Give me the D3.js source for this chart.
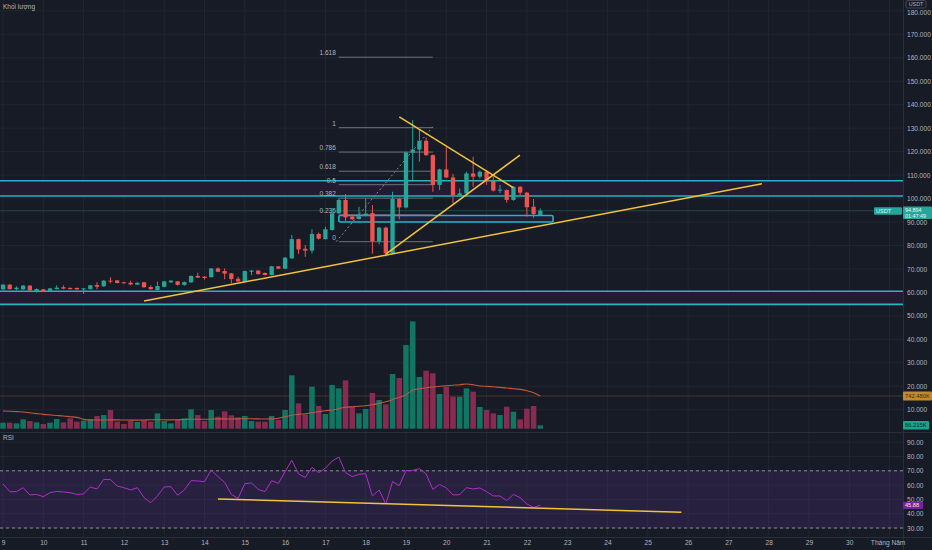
<!DOCTYPE html>
<html><head><meta charset="utf-8">
<script src="https://cdn.jsdelivr.net/npm/d3@7"></script>
<style>html,body{margin:0;padding:0;background:#171b26;overflow:hidden}svg{display:block}</style>
</head><body>
<svg id="c" width="932" height="550"></svg>
<script>
// ---------- DATA ----------
const dayLabels = ["9","10","11","12","13","14","15","16","17","18","19","20","21","22","23","24","25","26","27","28","29","30","Tháng Năm"];
const open  = [61.3,63.3,61.4,61.3,62.9,60.6,61.3,60.7,61.4,62.2, 61.9,61.9,61.4,61.4,63.1,62.6,65.0,65.1,64.3,64.1, 63.3,64.3,62.3,61.0,62.4,64.3,64.7,63.2,64.3,67.0, 66.7,66.5,70.2,69.1,68.1,65.8,64.6,68.8,69.3,68.3, 67.4,71.1,70.1,74.5,82.7,78.6,77.8,84.9,82.7,86.6, 93.7,99.4,92.3,91.3,92.6,93.8,81.8,87.6,76.6,99.8, 96.2,119.6,120.9,124.6,118.5,105.8,112.4,109.0,101.3,102.2, 110.7,109.3,111.4,107.5,103.5,103.6,99.4,105.0,102.5,96.5, 93.0];
const close = [63.3,61.4,62.0,62.9,60.9,61.4,60.6,61.7,62.0,61.6, 61.4,61.3,61.7,63.0,62.4,65.0,64.7,64.0,63.9,63.4, 64.1,62.2,61.4,62.7,64.7,65.0,63.2,64.4,67.0,66.3, 66.1,70.2,68.8,68.0,65.7,64.7,69.1,69.3,67.8,67.4, 71.1,70.1,74.8,82.7,78.3,77.8,84.9,82.9,86.9,93.7, 99.4,92.0,91.2,92.4,93.6,81.8,87.6,76.7,99.8,96.2, 119.6,120.9,124.6,118.5,105.8,112.4,109.0,101.5,102.2,110.7, 109.3,111.4,107.5,103.4,103.8,99.4,105.0,102.5,96.3,93.4, 94.8];
const high  = [63.5,63.5,62.6,63.1,63.0,61.7,61.5,61.9,63.0,63.0, 62.1,62.0,61.9,63.2,64.3,65.2,66.4,65.3,64.5,65.0, 64.3,64.5,63.0,64.6,64.9,65.2,64.9,64.6,67.2,68.4, 66.9,70.4,70.6,70.2,68.3,66.7,69.3,69.5,69.5,68.5, 71.3,71.3,75.0,84.5,82.9,80.2,86.9,85.5,88.0,96.0, 100.0,101.9,93.0,96.5,100.0,97.2,88.0,88.0,102.9,100.2, 120.0,133.4,129.5,126.0,118.8,112.7,121.8,110.5,104.3,111.5, 117.8,112.0,112.0,109.3,105.8,103.9,105.3,105.3,102.8,99.8, 95.8];
const low   = [61.0,61.2,60.9,61.1,60.7,60.0,60.4,60.5,61.3,61.3, 61.2,61.1,59.3,61.2,61.3,62.4,63.9,63.8,63.7,63.0, 63.1,62.0,61.0,60.8,62.2,64.0,62.9,62.8,64.1,66.1, 65.5,66.3,68.6,65.6,63.9,64.5,64.4,67.3,67.6,67.2, 67.2,69.9,69.9,74.3,76.4,75.1,76.6,82.5,82.5,86.3, 93.4,90.5,90.8,91.0,92.4,76.5,80.5,75.3,76.3,91.1, 95.8,107.2,115.7,118.2,102.9,103.6,108.7,97.9,101.0,101.5, 105.0,108.5,105.8,103.0,102.3,98.2,99.1,101.5,92.3,91.8, 92.8];
// volume in thousands
const volume = [120,120,107,187,153,127,94,120,194,127, 207,140,160,194,254,274,374,140,94,153, 134,174,140,307,153,107,187,207,387,274, 153,374,240,347,267,227,254,153,140,140, 254,174,374,1067,507,285,840,454,294,874, 807,967,440,307,394,714,574,487,1094,1014, 1674,2147,1034,1160,1107,694,840,640,640,807, 740,434,374,307,274,440,340,187,400,454, 66];
const volumeMA = [354,348,341,334,318,302,287,276,265,254, 240,227,187,174,174,174,176,176,174,172, 172,174,180,180,178,176,180,184,190,190, 188,192,196,196,194,196,200,198,196,194, 196,210,240,270,287,300,320,340,360,374, 400,430,440,450,460,480,507,540,580,630, 674,774,800,820,835,848,860,870,880,894, 880,854,848,840,827,815,800,787,760,720, 654];
const rsi = [60.8,55.4,55.4,58.2,53.1,53.5,51.9,54.7,55.6,55.2, 54.7,53.5,53.8,58.7,57.3,64.0,63.8,59.4,58.2,56.6, 58.2,51.2,47.7,52.4,58.7,58.9,52.9,56.6,63.1,62.9, 62.4,70.6,65.9,61.9,53.5,50.7,61.0,61.5,57.0,55.4, 63.1,61.2,69.4,77.3,67.8,65.4,72.4,68.7,71.7,76.8, 79.6,68.7,65.9,67.5,68.0,52.4,56.6,46.8,62.4,59.6, 70.1,70.3,71.5,67.8,57.0,60.5,58.0,53.1,53.3,58.2, 57.3,58.0,55.4,52.4,52.4,49.1,53.5,51.2,46.8,44.4, 45.9];
const priceTicks = [10,20,30,40,50,60,70,80,90,100,110,120,130,140,150,160,170,180];
const rsiTicks = [30,40,50,60,70,80,90];
const rsiBands = [30,70];
// drawings (bar index, price)
const zones = [[101.1,107.6],[54.9,60.5]];
const boxZone = {i1:50.0, i2:81.9, p1:90.0, p2:92.8};
const fibLevels = [0,0.236,0.382,0.5,0.618,0.786,1,1.618];
const fibLabels = ["0","0.236","0.382","0.5","0.618","0.786","1","1.618"];
const fib = {i1:50.0, i2:64.0, low:81.6, high:130.2};
const fibDiag = [[49.6,81.6],[64.0,130.6]];
const trendLines = [
  [[21.0,56.3],[113.0,106.3]],
  [[59.0,134.85],[75.97,104.6]],
  [[57.0,76.3],[76.97,118.5]]
];
const rsiTrend = [[32,50.3],[101,41.0]];

// ---------- SCALES ----------
const svg = d3.select("#c");
const plotR = 903;
const x = d3.scaleLinear().domain([0,134]).range([3,903]);
const yP = d3.scaleLinear().domain([10,170]).range([409.7,34.3]);
const yV = d3.scaleLinear().domain([0,2000]).range([428.7,328.7]);
const yR = d3.scaleLinear().domain([30,90]).range([528,442.2]);
const dayIdx = dayLabels.map((d,k)=>k*6);
const bg = "#171b26", gridC = "#222631", up = "#26a69a", dn = "#ef5350";
const txt = "#b2b5be", font = "Liberation Sans, Arial, sans-serif";

svg.append("rect").attr("width",932).attr("height",550).attr("fill",bg);

const defs = svg.append("defs");
defs.append("clipPath").attr("id","cp").append("rect").attr("x",0).attr("y",0).attr("width",plotR).attr("height",432);
defs.append("clipPath").attr("id","cr").append("rect").attr("x",0).attr("y",433).attr("width",plotR).attr("height",104);

// grid
const grid = svg.append("g");
grid.selectAll(".gv").data(dayIdx).join("line")
  .attr("x1",d=>x(d)).attr("x2",d=>x(d)).attr("y1",0).attr("y2",537)
  .attr("stroke",gridC).attr("stroke-width",1);
grid.selectAll(".gh").data(priceTicks.filter(p=>yP(p)>0 && yP(p)<432)).join("line")
  .attr("x1",0).attr("x2",plotR).attr("y1",d=>yP(d)).attr("y2",d=>yP(d))
  .attr("stroke",gridC);
grid.selectAll(".gr").data(rsiTicks).join("line")
  .attr("x1",0).attr("x2",plotR).attr("y1",d=>yR(d)).attr("y2",d=>yR(d))
  .attr("stroke",gridC);

// ---------- PRICE PANE ----------
const pp = svg.append("g").attr("clip-path","url(#cp)");
zones.forEach(z=>{
  pp.append("rect").attr("x",0).attr("width",plotR)
    .attr("y",yP(z[1])).attr("height",yP(z[0])-yP(z[1])).attr("fill","#221b31");
  z.forEach(v=>pp.append("line").attr("x1",0).attr("x2",plotR).attr("y1",yP(v)).attr("y2",yP(v))
    .attr("stroke","#22b5c2").attr("stroke-width",1.6));
});
// volume MA last value line
pp.append("line").attr("x1",0).attr("x2",plotR).attr("y1",yV(volumeMA[80])).attr("y2",yV(volumeMA[80]))
  .attr("stroke","#4a3628").attr("stroke-width",1.2);
// current price line
pp.append("line").attr("x1",0).attr("x2",plotR).attr("y1",yP(close[80])).attr("y2",yP(close[80]))
  .attr("stroke","#1d4b49").attr("stroke-width",1);

// volume bars
const bw = (x(1)-x(0));
pp.selectAll(".vb").data(volume).join("rect")
  .attr("x",(d,i)=>x(i)-bw/2+0.6).attr("width",bw-1.2)
  .attr("y",d=>yV(d)).attr("height",d=>yV(0)-yV(d))
  .attr("fill",(d,i)=>close[i]>=open[i]?"#107563":"#872c50");
pp.append("path").datum(volumeMA)
  .attr("d",d3.line().x((d,i)=>x(i)).y(d=>yV(d)).curve(d3.curveMonotoneX))
  .attr("fill","none").attr("stroke","#c3583f").attr("stroke-width",1.1);

// box zone
pp.append("rect").attr("x",x(boxZone.i1)).attr("width",x(boxZone.i2)-x(boxZone.i1))
  .attr("y",yP(boxZone.p2)).attr("height",yP(boxZone.p1)-yP(boxZone.p2))
  .attr("rx",1.5).attr("fill","rgba(60,30,90,0.35)").attr("stroke","#22b5c2").attr("stroke-width",1.6);

// fib
const fg = pp.append("g");
fibLevels.forEach((lv,k)=>{
  const p = fib.low + lv*(fib.high-fib.low);
  fg.append("line").attr("x1",x(fib.i1)).attr("x2",x(fib.i2)).attr("y1",yP(p)).attr("y2",yP(p))
    .attr("stroke","#6f727c").attr("stroke-width",1);
  fg.append("text").attr("x",x(fib.i1)-3).attr("y",yP(p)-2).attr("text-anchor","end")
    .attr("font-family",font).attr("font-size",6.5).attr("fill",txt).text(fibLabels[k]);
});
fg.append("line").attr("x1",x(fibDiag[0][0])).attr("y1",yP(fibDiag[0][1]))
  .attr("x2",x(fibDiag[1][0])).attr("y2",yP(fibDiag[1][1]))
  .attr("stroke","#8a8d96").attr("stroke-width",1).attr("stroke-dasharray","2,2.5");

// candles
const cw = bw*0.64;
const cg = pp.append("g");
open.forEach((o,i)=>{
  const c = close[i], col = c>=o?up:dn;
  cg.append("line").attr("x1",x(i)).attr("x2",x(i)).attr("y1",yP(high[i])).attr("y2",yP(low[i]))
    .attr("stroke",col).attr("stroke-width",1);
  const top = yP(Math.max(o,c)), h = Math.max(1, Math.abs(yP(o)-yP(c)));
  cg.append("rect").attr("x",x(i)-cw/2).attr("width",cw).attr("y",top).attr("height",h).attr("fill",col);
});

// trend lines
trendLines.forEach(t=>{
  pp.append("line").attr("x1",x(t[0][0])).attr("y1",yP(t[0][1])).attr("x2",x(t[1][0])).attr("y2",yP(t[1][1]))
    .attr("stroke","#f2c23a").attr("stroke-width",1.5);
});

// ---------- RSI PANE ----------
const rp = svg.append("g").attr("clip-path","url(#cr)");
rp.append("rect").attr("x",0).attr("width",plotR).attr("y",yR(70)).attr("height",yR(30)-yR(70))
  .attr("fill","rgba(126,60,200,0.16)");
rsiBands.forEach(v=>rp.append("line").attr("x1",0).attr("x2",plotR).attr("y1",yR(v)).attr("y2",yR(v))
  .attr("stroke","#8a8d96").attr("stroke-width",1).attr("stroke-dasharray","3,3"));
rp.append("path").datum(rsi).attr("d",d3.line().x((d,i)=>x(i)).y(d=>yR(d)))
  .attr("fill","none").attr("stroke","#b02ec9").attr("stroke-width",1);
rp.append("line").attr("x1",x(rsiTrend[0][0])).attr("y1",yR(rsiTrend[0][1]))
  .attr("x2",x(rsiTrend[1][0])).attr("y2",yR(rsiTrend[1][1]))
  .attr("stroke","#f2c23a").attr("stroke-width",1.5);

// separators
svg.append("line").attr("x1",0).attr("x2",932).attr("y1",432.5).attr("y2",432.5).attr("stroke","#2a2e39");
svg.append("line").attr("x1",0).attr("x2",932).attr("y1",537.5).attr("y2",537.5).attr("stroke","#2a2e39");
svg.append("line").attr("x1",plotR+0.5).attr("x2",plotR+0.5).attr("y1",0).attr("y2",550).attr("stroke","#2a2e39");

// pane titles
svg.append("text").attr("x",3).attr("y",9).attr("font-family",font).attr("font-size",6.5).attr("fill",txt).text("Khối lượng");
svg.append("text").attr("x",3).attr("y",440).attr("font-family",font).attr("font-size",6.5).attr("fill",txt).text("RSI");

// ---------- AXES ----------
function styleAxis(g){
  g.select(".domain").remove();
  g.selectAll("text").attr("font-family",font).attr("font-size",6.6).attr("fill",txt);
  g.selectAll("line").remove();
}
svg.append("g").attr("transform",`translate(${plotR+2},0)`)
  .call(d3.axisRight(yP).tickValues(priceTicks).tickFormat(d3.format(".3f")).tickSize(0).tickPadding(2))
  .call(styleAxis)
  .call(g=>g.selectAll("text").filter(d=>d===180).attr("dy","0.55em"));
svg.append("g").attr("transform",`translate(${plotR+2},0)`)
  .call(d3.axisRight(yR).tickValues(rsiTicks).tickFormat(d3.format(".2f")).tickSize(0).tickPadding(2))
  .call(styleAxis);
svg.append("g").attr("transform","translate(0,539)")
  .call(d3.axisBottom(x).tickValues(dayIdx).tickFormat((d,k)=>dayLabels[k]).tickSize(0).tickPadding(1))
  .call(styleAxis)
  .call(g=>g.selectAll("text").filter((d,k)=>k===dayLabels.length-1).attr("x",-2));

// ---------- AXIS LABELS ----------
function label(x0,y0,w,h,fill,lines,tcol,fs,step){
  svg.append("rect").attr("x",x0).attr("y",y0).attr("width",w).attr("height",h).attr("fill",fill).attr("rx",1);
  lines.forEach((t,k)=>svg.append("text").attr("x",x0+2).attr("y",y0+fs+0.2+k*step)
    .attr("font-family",font).attr("font-size",fs).attr("fill",tcol).text(t));
}
// USDT
svg.append("rect").attr("x",906).attr("y",0.5).attr("width",20).attr("height",7.5).attr("rx",1.5)
  .attr("fill",bg).attr("stroke","#50535e").attr("stroke-width",0.8);
svg.append("text").attr("x",916).attr("y",6.2).attr("text-anchor","middle").attr("font-family",font)
  .attr("font-size",5.4).attr("fill",txt).text("USDT");
const yc = yP(close[80]);
label(874,yc-3.5,28,7.5,"#26a69a",["USDT"],"#d9f5f1",5.6,6);
label(903,yc-4.3,29,12.6,"#26a69a",["94.894","01:47:49"],"#e8fbf8",5.4,5.8);
label(903,yV(volumeMA[80])-4.5,29,9,"#c38a2d",["742.480K"],"#3a2a10",5.8,6);
label(903,yV(volume[80])-4.5,26,8.5,"#1aa28d",["66.215K"],"#0c1f1c",5.8,6);
label(903,yR(rsi[80])-3.6,20,7.4,"#7b1fa2",["45.88"],"#f6edb4",5.6,6);
</script>
</body></html>
